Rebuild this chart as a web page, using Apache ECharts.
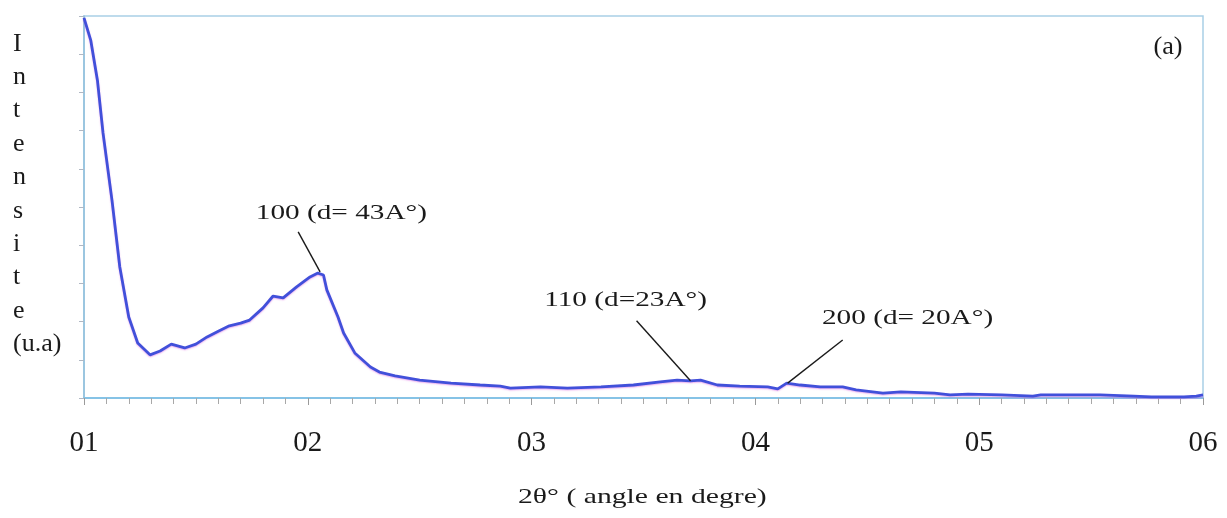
<!DOCTYPE html>
<html>
<head>
<meta charset="utf-8">
<script src="https://cdn.jsdelivr.net/npm/echarts@6/dist/echarts.min.js"></script>
<style>
  html, body { margin: 0; padding: 0; background: #fff; }
  #chart { width: 1227px; height: 518px; }
</style>
</head>
<body>
<div id="chart"></div>
<script>
// Diffraction pattern: 2θ (degrees) against intensity (arbitrary units)
const twoTheta = [1.00, 1.03, 1.06, 1.085, 1.125, 1.16, 1.20, 1.24, 1.295, 1.34, 1.39, 1.45, 1.50, 1.55, 1.60, 1.645, 1.70, 1.74, 1.80, 1.845, 1.89, 1.95, 2.01, 2.045, 2.07, 2.085, 2.135, 2.16, 2.21, 2.28, 2.32, 2.39, 2.50, 2.64, 2.77, 2.86, 2.905, 3.04, 3.16, 3.31, 3.455, 3.575, 3.65, 3.71, 3.755, 3.83, 3.93, 4.055, 4.10, 4.14, 4.20, 4.29, 4.39, 4.45, 4.57, 4.65, 4.80, 4.87, 4.95, 5.10, 5.24, 5.275, 5.54, 5.69, 5.77, 5.915, 5.97, 6.00];
const intensity = [9.95, 9.37, 8.32, 6.94, 5.18, 3.43, 2.12, 1.44, 1.13, 1.23, 1.41, 1.31, 1.41, 1.60, 1.75, 1.88, 1.96, 2.04, 2.36, 2.67, 2.62, 2.91, 3.17, 3.27, 3.22, 2.83, 2.12, 1.70, 1.18, 0.81, 0.68, 0.58, 0.47, 0.39, 0.34, 0.31, 0.26, 0.29, 0.26, 0.29, 0.34, 0.42, 0.47, 0.45, 0.47, 0.34, 0.31, 0.29, 0.24, 0.39, 0.34, 0.29, 0.29, 0.21, 0.13, 0.16, 0.13, 0.08, 0.10, 0.08, 0.05, 0.08, 0.08, 0.05, 0.03, 0.03, 0.05, 0.08];

// Reflection labels: text, label centre (2θ, I), pointer start and end (2θ, I)
const peakLabels = ['100 (d= 43A°)', '110 (d=23A°)', '200 (d= 20A°)'];
const labelAt = [[2.15, 4.85], [3.42, 2.57], [4.68, 2.08]];
const pointerFrom = [[1.957, 4.35], [3.469, 2.02], [4.39, 1.52]];
const pointerTo = [[2.055, 3.30], [3.71, 0.45], [4.144, 0.39]];

const xTicks = [1, 2, 3, 4, 5, 6];
const xTickLabels = ['01', '02', '03', '04', '05', '06'];
const xTitle = '2θ° ( angle en degre)';
const yTitle = ['I', 'n', 't', 'e', 'n', 's', 'i', 't', 'e', '(u.a)'];
const panelTag = '(a)';

const serif = '"Liberation Serif", "DejaVu Serif", serif';
const ink = '#1a1a1a';
const chart = echarts.init(document.getElementById('chart'), null, { renderer: 'canvas' });

chart.setOption({
  animation: false,
  backgroundColor: '#ffffff',
  grid: {
    left: 84, right: 24, top: 16, bottom: 120,
    show: true, borderColor: '#a9cfe6', borderWidth: 1.5
  },
  xAxis: {
    type: 'value', min: 1, max: 6, interval: 1,
    axisLine: { show: true, lineStyle: { color: '#86c3e6', width: 2 } },
    axisTick: { show: true, length: 7, lineStyle: { color: '#9a9a9a', width: 1 } },
    minorTick: { show: true, splitNumber: 10, length: 6, lineStyle: { color: '#a8a8a8', width: 1 } },
    splitLine: { show: false },
    axisLabel: {
      margin: 31, fontFamily: serif, fontSize: 29, color: ink,
      formatter: v => xTickLabels[xTicks.indexOf(v)] || ''
    }
  },
  yAxis: {
    type: 'value', min: 0, max: 10, interval: 1,
    axisLine: { show: true, lineStyle: { color: '#8fbfdc', width: 1.5 } },
    axisTick: { show: true, length: 5, lineStyle: { color: '#b0b8c4', width: 1 } },
    axisLabel: { show: false },
    splitLine: { show: false }
  },
  series: [
    {
      type: 'line',
      data: twoTheta.map((t, i) => [t, intensity[i]]),
      showSymbol: false,
      lineStyle: { color: '#4150da', width: 2.8, shadowColor: 'rgba(210,80,220,0.45)', shadowBlur: 1.5, shadowOffsetY: 1 },
      markLine: {
        silent: true,
        symbol: ['none', 'none'],
        label: { show: false },
        lineStyle: { color: ink, width: 1.4, type: 'solid' },
        data: pointerFrom.map((p, i) => [{ coord: p }, { coord: pointerTo[i] }])
      }
    }
  ]
});

// Wide serif text, stretched horizontally
function wideText(text, x, y, size, align, stretch) {
  return {
    type: 'text', x: x, y: y, scaleX: stretch,
    style: { text: text, fontFamily: serif, fontSize: size, fill: ink, textAlign: align, textVerticalAlign: 'middle' }
  };
}

const graphics = peakLabels.map((txt, i) => {
  const [px, py] = chart.convertToPixel({ gridIndex: 0 }, labelAt[i]);
  return wideText(txt, px, py, 22, 'center', 1.33);
});
graphics.push(wideText(panelTag, 1168, 47, 25, 'center', 1.05));
graphics.push(wideText(xTitle, 518, 497, 22, 'left', 1.35));
graphics.push({
  type: 'text', x: 13, y: 27,
  style: { text: yTitle.join('\n'), fontFamily: serif, fontSize: 26, fill: ink, textAlign: 'left', lineHeight: 33.4 }
});
chart.setOption({ graphic: graphics });
</script>
</body>
</html>
